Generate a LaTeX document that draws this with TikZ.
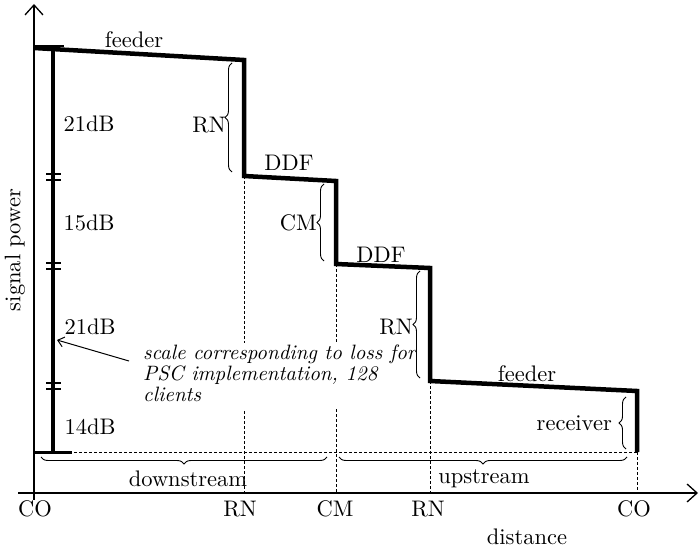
\documentclass[tikz,border=0pt]{standalone}
\usetikzlibrary{arrows.meta,decorations.pathreplacing}
\usepackage{graphicx}
% text is set at 10pt and enlarged, keeping the wide 10pt letter shapes
\newcommand\enl[1]{\scalebox{2.25}{#1}}
\newcommand\enlnote[1]{\scalebox{2.08}{\fontsize{10}{10.2}\selectfont\itshape\begin{tabular}{@{}l@{}}#1\end{tabular}}}
\begin{document}
\begin{tikzpicture}[x=1pt,y=-1pt,
  lbl/.style={font=\fontsize{10}{12}\selectfont, inner sep=0pt},
  note/.style={inner sep=1pt, fill=white},
  axis/.style={line width=1.3pt},
  power/.style={line width=4.5pt, line join=miter},
  guide/.style={line width=0.8pt, dash pattern=on 3pt off 2pt},
  tick/.style={line width=1.2pt},
  bracel/.style={decorate, decoration={brace, amplitude=7pt}, line width=0.9pt},
]
\useasboundingbox (0,0) rectangle (699,548);

% axes
\coordinate (ytop) at (34,4);
\coordinate (ybot) at (34,500);
\coordinate (xl) at (18,493);
\coordinate (xr) at (698,493);
\draw[axis, -{Straight Barb[length=10pt,width=18pt,line width=1.3pt]}] (ybot) -- (ytop);
\draw[axis, -{Straight Barb[length=10pt,width=18pt,line width=1.3pt]}] (xl) -- (xr);

% power levels along the link
\coordinate (p0) at (34,48);
\coordinate (p1) at (244,60);
\coordinate (p2) at (244,176);
\coordinate (p3) at (336,181);
\coordinate (p4) at (336,264);
\coordinate (p5) at (430,268);
\coordinate (p6) at (430,381);
\coordinate (p7) at (637,391);
\coordinate (p8) at (637,452);
\draw[power] (p0) -- (p1) -- (p2) -- (p3) -- (p4) -- (p5) -- (p6) -- (p7) -- (p8);

% reference level and guides down to the axis
\coordinate (b0) at (34,452);
\draw[guide] (b0) -- (p8);
\coordinate (g1) at (244,493);
\coordinate (g2) at (336,493);
\coordinate (g3) at (430,493);
\coordinate (g4) at (637,493);
\draw[guide] (p2) -- (g1);
\draw[guide] (p4) -- (g2);
\draw[guide] (p6) -- (g3);
\draw[guide] (p8) -- (g4);

% annotation, masking the guides behind it
\node[note, anchor=north west] (ann) at (142,343) {\enlnote{scale corresponding to loss for\\PSC implementation, 128\\clients}};
\coordinate (tip) at (57,340);
\draw[line width=1pt, -{Straight Barb[length=6pt,width=10pt]}] (129,361) -- (tip);

% loss scale bar
\coordinate (s0) at (53,47);
\coordinate (s1) at (53,452);
\draw[line width=4.5pt] (s0) -- (s1);
\draw[tick] (34,46) -- (64,46);
\draw[line width=3pt] (34,452) -- (72,452);
\foreach \yy in {177,266,386}{
  \draw[tick] (46,\yy-3) -- (61,\yy-3);
  \draw[tick] (46,\yy+3) -- (61,\yy+3);
}
\node[lbl] (d1) at (89,124) {\enl{21dB}};
\node[lbl] (d2) at (89,223) {\enl{15dB}};
\node[lbl] (d3) at (90,327) {\enl{21dB}};
\node[lbl] (d4) at (90,427) {\enl{14dB}};

% segment labels
\node[lbl] (f1) at (134,40) {\enl{feeder}};
\node[lbl] (dd1) at (289,163) {\enl{DDF}};
\node[lbl] (dd2) at (381,255) {\enl{DDF}};
\node[lbl] (f2) at (527,374) {\enl{feeder}};

% loss braces
\draw[bracel] (232,172) -- (232,63);
\node[lbl, anchor=east] (rn1) at (226,125) {\enl{RN}};
\draw[bracel] (324,261) -- (324,184);
\node[lbl, anchor=east] (cm) at (317,223) {\enl{CM}};
\draw[bracel] (420,378) -- (420,271);
\node[lbl, anchor=east] (rn2) at (413,327) {\enl{RN}};
\draw[bracel] (626,449) -- (626,397);
\node[lbl, anchor=east] (rcv) at (612,423) {\enl{receiver}};

% direction braces
\draw[bracel] (327,457) -- (41,457);
\node[lbl] (down) at (188,479) {\enl{downstream}};
\draw[bracel] (627,457) -- (339,457);
\node[lbl] (up) at (484,479) {\enl{upstream}};

% axis labels
\node[lbl] (co1) at (35,509) {\enl{CO}};
\node[lbl] (rn3) at (240,509) {\enl{RN}};
\node[lbl] (cm2) at (335,509) {\enl{CM}};
\node[lbl] (rn4) at (428,509) {\enl{RN}};
\node[lbl] (co2) at (634,509) {\enl{CO}};
\node[lbl] (dist) at (527,537) {\enl{distance}};
\node[lbl, rotate=90] (sp) at (15,250) {\enl{signal power}};
\end{tikzpicture}
\end{document}
